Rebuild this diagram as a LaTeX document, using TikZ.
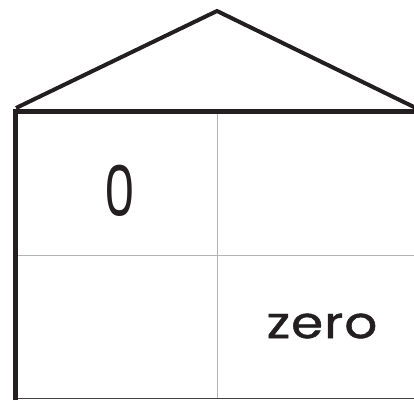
\documentclass[tikz,border=0pt]{standalone}
\usepackage{fontspec}
\setmainfont{Poppins}
\newfontfamily\wordfont[LetterSpace=2, FakeBold=1]{Poppins}
\definecolor{ink}{HTML}{231F20}
\definecolor{gridgray}{HTML}{B4B4B4}
\tikzset{
  thick edge/.style={draw=ink, line width=5pt},
  grid line/.style={draw=gridgray, line width=1pt},
  cell text/.style={text=ink, inner sep=0pt, anchor=center}
}
\begin{document}
\begin{tikzpicture}[x=1pt, y=-1pt]
\useasboundingbox (0,0) rectangle (414,400);
\coordinate (roofL) at (16,108);
\coordinate (apex) at (217,11);
\coordinate (roofR) at (416,108);
\draw[draw=ink, line width=4pt, line join=miter] (roofL) -- (apex) -- (roofR);
% grid
\coordinate (vt) at (217.5,111);
\coordinate (vb) at (217.5,398);
\coordinate (hl) at (15,255);
\coordinate (hr) at (414,255);
\draw[grid line] (vt) -- (vb);
\draw[grid line] (hl) -- (hr);
% bottom
\coordinate (bl) at (15,398.5);
\coordinate (br) at (414,398.5);
\draw[draw=ink!85, line width=1.5pt] (bl) -- (br);
% top and left thick edges
\coordinate (tl) at (15.5,111);
\coordinate (tr) at (416,111);
\coordinate (lb) at (15.5,400);
\draw[thick edge, line join=miter] (lb) -- (tl) -- (tr);
% texts
\node[cell text, font=\fontsize{70}{70}\selectfont, xscale=0.7] (zero) at (120,191) {0};
\node[cell text, font=\wordfont\fontsize{44}{44}\selectfont, xscale=1.17] (word) at (322,326) {zero};
\end{tikzpicture}
\end{document}
